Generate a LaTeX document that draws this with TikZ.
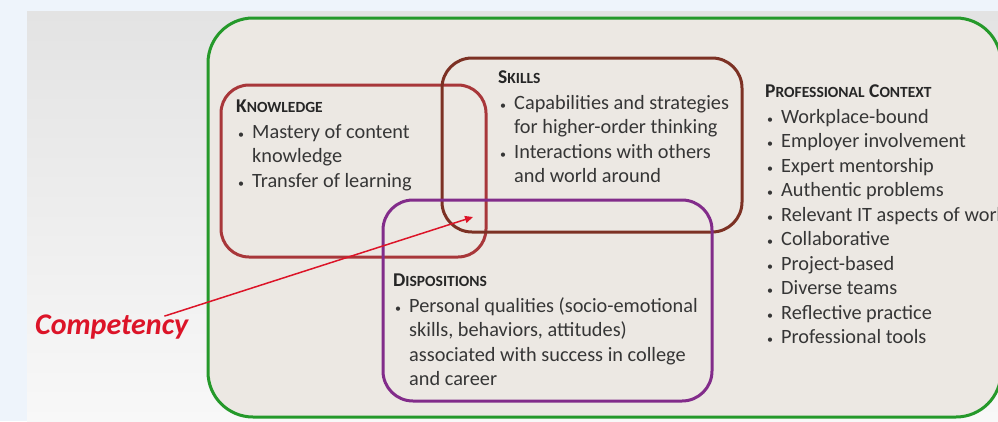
\documentclass[tikz,border=0pt]{standalone}
\usepackage{fontspec}
\setmainfont{Carlito}
\usetikzlibrary{arrows.meta}

\definecolor{pagebg}{HTML}{EEF4FB}
\definecolor{slidetop}{HTML}{E3E3E3}
\definecolor{slidebot}{HTML}{F8F8F8}
\definecolor{ctxfill}{HTML}{ECE8E3}
\definecolor{ctxline}{HTML}{25992A}
\definecolor{knowline}{HTML}{A8373A}
\definecolor{skillline}{HTML}{7C3124}
\definecolor{displine}{HTML}{822C8A}
\definecolor{bodytext}{HTML}{363636}
\definecolor{headtext}{HTML}{262626}
\definecolor{compred}{HTML}{DC1428}

% body text: bullet column and fake small-caps headings
\newcommand\bul{\makebox[16pt][l]{\hspace{2pt}{\fontsize{12}{24.5}\selectfont\textbullet}}}
\newcommand\cont{\makebox[16pt][l]{}}
\newcommand\capl[1]{{\fontsize{19.5}{24.5}\selectfont #1}}
\newcommand\smcl[1]{{\fontsize{15.5}{24.5}\selectfont #1}}
\newcommand\hd[1]{\multicolumn{2}{@{}l@{}}{\bfseries\color{headtext}#1}}

\tikzset{
  block/.style={anchor=base west, inner sep=0pt, text=bodytext,
    font=\fontsize{20.3}{24.5}\selectfont},
  zone/.style={line width=3pt, rounded corners=#1},
  pointer/.style={draw=compred, line width=1.5pt, -{Triangle[length=8pt,width=7pt]}}
}

\begin{document}
\begin{tikzpicture}[x=1pt,y=-1pt]
  \useasboundingbox (0,0) rectangle (998,421);
  % page and slide backgrounds
  \fill[pagebg] (0,0) rectangle (998,421);
  \shade[top color=slidetop, bottom color=slidebot] (27,11) rectangle (998,421);

  % professional context frame
  \draw[zone=45pt, draw=ctxline, fill=ctxfill] (208,18) rectangle (1001,417);

  % the three overlapping domains
  \draw[zone=28pt, draw=knowline]  (221,85)  rectangle (486,257);
  \draw[zone=30pt, draw=skillline] (442,58)  rectangle (742,232);
  \draw[zone=30pt, draw=displine]  (383,200) rectangle (712,401);

  % knowledge
  \node[block] (know) at (236,112) {\begin{tabular}[t]{@{}l@{}l@{}}
    \hd{\capl{K}\smcl{NOWLEDGE}}\\[1.5pt]
    \bul & Mastery of content\\
    \cont & knowledge\\
    \bul & Transfer of learning
  \end{tabular}};

  % skills
  \node[block] (skill) at (498,83) {\begin{tabular}[t]{@{}l@{}l@{}}
    \hd{\capl{S}\smcl{KILLS}}\\[1.5pt]
    \bul & Capabilities and strategies\\
    \cont & for higher-order thinking\\
    \bul & Interactions with others\\
    \cont & and world around
  \end{tabular}};

  % dispositions
  \node[block] (disp) at (393,286) {\begin{tabular}[t]{@{}l@{}l@{}}
    \hd{\capl{D}\smcl{ISPOSITIONS}}\\[1.5pt]
    \bul & Personal qualities (socio-emotional\\
    \cont & skills, behaviors, attitudes)\\
    \cont & associated with success in college\\
    \cont & and career
  \end{tabular}};

  % professional context
  \node[block] (ctx) at (765,97) {\begin{tabular}[t]{@{}l@{}l@{}}
    \hd{\capl{P}\smcl{ROFESSIONAL} \capl{C}\smcl{ONTEXT}}\\[1.5pt]
    \bul & Workplace-bound\\
    \bul & Employer involvement\\
    \bul & Expert mentorship\\
    \bul & Authentic problems\\
    \bul & Relevant IT aspects of work\\
    \bul & Collaborative\\
    \bul & Project-based\\
    \bul & Diverse teams\\
    \bul & Reflective practice\\
    \bul & Professional tools
  \end{tabular}};

  % competency label and pointer into the shared region
  \node[anchor=base west, inner sep=0pt, text=compred,
        font=\fontsize{30}{34}\selectfont\bfseries\itshape] (comp) at (35,334) {Competency};
  \coordinate (core) at (473,217);
  \draw[pointer] ([xshift=-24pt,yshift=-2pt]comp.north east) -- (core);
\end{tikzpicture}
\end{document}
